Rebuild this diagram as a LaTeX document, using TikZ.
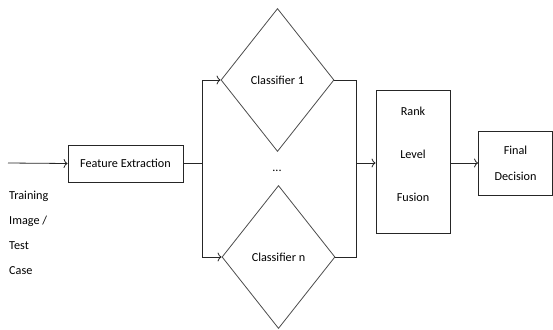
\documentclass[tikz,border=0pt]{standalone}
\usepackage{fontspec}
\setmainfont{Carlito}
\usetikzlibrary{shapes.geometric,arrows.meta}

\begin{document}
\begin{tikzpicture}[x=1pt, y=-1pt,
		box/.style={rectangle, draw=black!85, line width=0.8pt, align=center, inner sep=0pt},
		classifier/.style={diamond, draw=black!70, line width=0.8pt, inner sep=0pt, minimum width=113pt, minimum height=143pt},
		label/.style={align=left, inner sep=0pt, anchor=north west},
		font=\fontsize{12.2}{14}\selectfont
	]
	\useasboundingbox (0,0) rectangle (553,329);
	\coordinate (input) at (8,163);
	\node[box, minimum width=115pt, minimum height=37pt] (fe) at (125.5,163.5) {Feature Extraction};
	\node[label] (case) at (9,191) {Training\\[11pt]Image /\\[11pt]Test\\[11pt]Case};
	\node[classifier] (c1) at (277.5,80) {Classifier 1};
	\node[classifier] (cn) at (278.5,257) {Classifier n};
	\node (dots) at (277,171) {...};
	\node[box, minimum width=74pt, minimum height=143pt] (rank) at (413,161.5) {Rank\\[29pt]Level\\[29pt]Fusion\\[1pt]\mbox{}};
	\node[box, minimum width=74pt, minimum height=64pt] (final) at (515.5,163) {Final\\[12pt]Decision};
	\coordinate (split) at (202,163.5);
	\coordinate (join) at (356,163);
	\begin{scope}[line width=0.8pt, draw=black!85, -{To[length=4pt,width=9pt]}]
	\draw (input) -- (fe.west);
	\draw[-] (fe.east) -- (split);
	\draw (split) |- (c1.west);
	\draw (split) |- (cn.west);
	\draw[-] (c1.east) -| (join);
	\draw[-] (cn.east) -| (join);
	\draw (join) -- (rank.west |- join);
	\draw (rank.east |- final.west) -- (final.west);
	\end{scope}
\end{tikzpicture}
\end{document}
